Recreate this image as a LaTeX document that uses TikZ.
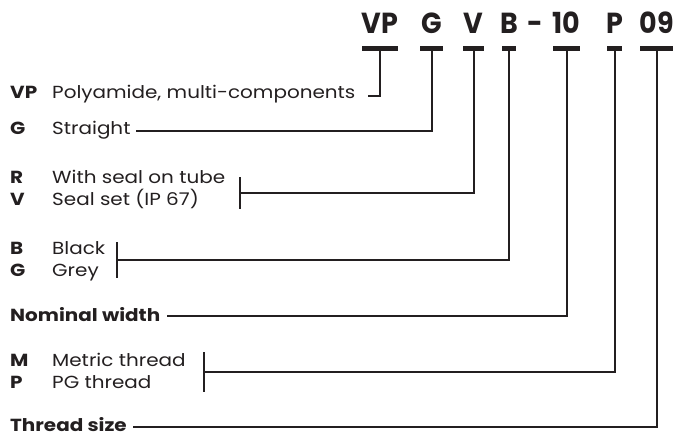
\documentclass[tikz,border=0pt]{standalone}
\usepackage{fontspec}
\setmainfont{Poppins}[FakeStretch=1.14]
\newfontfamily\codefont{Poppins}[FakeStretch=0.93]
\definecolor{ink}{HTML}{231F20}
\begin{document}
\begin{tikzpicture}[x=1pt,y=-1pt,
  code/.style={font=\codefont\fontsize{29}{30}\selectfont\bfseries, inner sep=0, anchor=base, text=ink},
  key/.style={font=\fontsize{17.5}{18}\selectfont\bfseries, inner sep=0, anchor=base west, text=ink},
  desc/.style={font=\fontsize{17.5}{18}\selectfont, inner sep=0, anchor=base west, text=ink},
  bar/.style={line width=5pt, draw=ink},
  conn/.style={line width=2pt, draw=ink},
  brk/.style={line width=2.2pt, draw=ink}]
\useasboundingbox (0,0) rectangle (675,435);
% top code
\node[code] (cVP) at (380,34) {VP};
\node[code] (cG) at (431.5,34) {G};
\node[code] (cV) at (473.5,34) {V};
\node[code] (cB) at (509,34) {B};
\node[code] (cD) at (535,34) {-};
\node[code] (c10) at (566.5,34) {10};
\node[code] (cP) at (614.5,34) {P};
\node[code] (c09) at (656.5,34) {09};
% bars
\coordinate (bVP) at (380,48.5);
\coordinate (bG) at (431.5,48.5);
\coordinate (bV) at (473.5,48.5);
\coordinate (bB) at (509,48.5);
\coordinate (b10) at (566.5,48.5);
\coordinate (bP) at (614.5,48.5);
\coordinate (b09) at (656.5,48.5);
\draw[bar] (362,48.5) -- (398,48.5);
\draw[bar] (420,48.5) -- (443,48.5);
\draw[bar] (463,48.5) -- (484,48.5);
\draw[bar] (502,48.5) -- (516,48.5);
\draw[bar] (553,48.5) -- (580,48.5);
\draw[bar] (607,48.5) -- (622,48.5);
\draw[bar] (640,48.5) -- (673,48.5);
% legend
\node[key] (kVP) at (10,99) {VP};
\node[desc] (dVP) at (52,99) {Polyamide, multi-components};
\node[key] (kG) at (10,135) {G};
\node[desc] (dG) at (52,135) {Straight};
\node[key] (kR) at (10,184) {R};
\node[desc] (dR) at (52,184) {With seal on tube};
\node[key] (kV) at (10,206) {V};
\node[desc] (dV) at (52,206) {Seal set (IP 67)};
\node[key] (kB) at (10,255) {B};
\node[desc] (dB) at (52,255) {Black};
\node[key] (kGr) at (10,277) {G};
\node[desc] (dGr) at (52,277) {Grey};
\node[key] (kN) at (10,322) {Nominal width};
\node[key] (kM) at (10,367) {M};
\node[desc] (dM) at (52,367) {Metric thread};
\node[key] (kP) at (10,389) {P};
\node[desc] (dP) at (52,389) {PG thread};
\node[key] (kT) at (10,432) {Thread size};
% free ends
\coordinate (eVP) at (368,96);
\coordinate (eG) at (136,131);
\coordinate (eV) at (240,193);
\coordinate (eB) at (117,260);
\coordinate (eN) at (167,316);
\coordinate (eP) at (204,372);
\coordinate (eT) at (133,427);
% connectors
\draw[conn] (bVP) |- (eVP);
\draw[conn] (bG) |- (eG);
\draw[conn] (bV) |- (eV);
\draw[conn] (bB) |- (eB);
\draw[conn] (b10) |- (eN);
\draw[conn] (bP) |- (eP);
\draw[conn] (b09) |- (eT);
% brackets
\draw[brk] ([yshift=-16pt]eV) -- ([yshift=16pt]eV);
\draw[brk] ([yshift=-18pt]eB) -- ([yshift=18pt]eB);
\draw[brk] ([yshift=-20pt]eP) -- ([yshift=20pt]eP);
\end{tikzpicture}
\end{document}
